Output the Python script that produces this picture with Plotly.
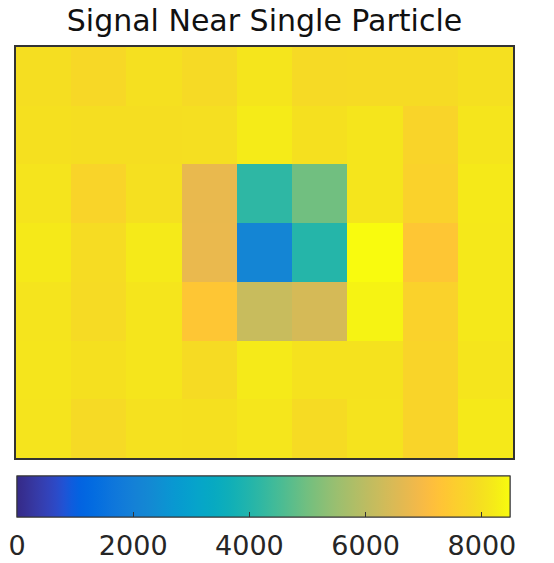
import plotly.graph_objects as go

title_text = "Signal Near Single Particle"
col_labels = list(range(9))
row_labels = list(range(7))

signal = [
    [7950, 7800, 7980, 7850, 8100, 7850, 7870, 7870, 7990],
    [8000, 7950, 7950, 7960, 8220, 8000, 8100, 7700, 8100],
    [8080, 7700, 7980, 6733, 4175, 4983, 8100, 7650, 8180],
    [8180, 7900, 8200, 6750, 2150, 4040, 8484, 7350, 8150],
    [8080, 7870, 8100, 7340, 6195, 6400, 8350, 7650, 8150],
    [8100, 8000, 8100, 7880, 8200, 8030, 8030, 7700, 8100],
    [8080, 7850, 8020, 8000, 8110, 7880, 8060, 7700, 8180],
]
cbar_ticks = [0, 2000, 4000, 6000, 8000]
cmin, cmax = 0, 8484

parula_rgb = [
    (0.2081, 0.1663, 0.5292), (0.2116, 0.1898, 0.5777), (0.2123, 0.2138, 0.6270), (0.2081, 0.2386, 0.6771),
    (0.1959, 0.2645, 0.7279), (0.1707, 0.2919, 0.7792), (0.1253, 0.3242, 0.8303), (0.0591, 0.3598, 0.8683),
    (0.0117, 0.3875, 0.8820), (0.0060, 0.4086, 0.8828), (0.0165, 0.4266, 0.8786), (0.0329, 0.4430, 0.8720),
    (0.0498, 0.4586, 0.8641), (0.0629, 0.4737, 0.8554), (0.0723, 0.4887, 0.8467), (0.0779, 0.5040, 0.8384),
    (0.0793, 0.5200, 0.8312), (0.0749, 0.5375, 0.8263), (0.0641, 0.5570, 0.8240), (0.0488, 0.5772, 0.8228),
    (0.0343, 0.5966, 0.8199), (0.0265, 0.6137, 0.8135), (0.0239, 0.6287, 0.8038), (0.0231, 0.6418, 0.7913),
    (0.0228, 0.6535, 0.7768), (0.0267, 0.6642, 0.7607), (0.0384, 0.6743, 0.7436), (0.0590, 0.6838, 0.7254),
    (0.0843, 0.6928, 0.7062), (0.1133, 0.7015, 0.6859), (0.1453, 0.7098, 0.6646), (0.1801, 0.7177, 0.6424),
    (0.2178, 0.7250, 0.6193), (0.2586, 0.7317, 0.5954), (0.3022, 0.7376, 0.5712), (0.3482, 0.7424, 0.5473),
    (0.3953, 0.7459, 0.5244), (0.4420, 0.7481, 0.5033), (0.4871, 0.7491, 0.4840), (0.5300, 0.7491, 0.4661),
    (0.5709, 0.7485, 0.4494), (0.6099, 0.7473, 0.4337), (0.6473, 0.7456, 0.4188), (0.6834, 0.7435, 0.4044),
    (0.7184, 0.7411, 0.3905), (0.7525, 0.7384, 0.3768), (0.7858, 0.7356, 0.3633), (0.8185, 0.7327, 0.3498),
    (0.8507, 0.7299, 0.3360), (0.8824, 0.7274, 0.3217), (0.9139, 0.7258, 0.3063), (0.9450, 0.7261, 0.2886),
    (0.9739, 0.7314, 0.2666), (0.9938, 0.7455, 0.2403), (0.9990, 0.7653, 0.2164), (0.9955, 0.7861, 0.1967),
    (0.9880, 0.8066, 0.1794), (0.9789, 0.8271, 0.1633), (0.9697, 0.8481, 0.1475), (0.9626, 0.8705, 0.1309),
    (0.9589, 0.8949, 0.1132), (0.9598, 0.9218, 0.0948), (0.9661, 0.9514, 0.0755), (0.9763, 0.9831, 0.0538),
]
n = len(parula_rgb)
parula = [[i / (n - 1), "rgb(%d,%d,%d)" % tuple(round(c * 255) for c in rgb)] for i, rgb in enumerate(parula_rgb)]

W, H = 554, 563
L, R, T, B = 16, 41, 47, 105
plot_h = H - T - B

cb_common = dict(
    orientation="h",
    x=(17 - L) / (W - L - R), xanchor="left",
    y=-(476 - (T + plot_h)) / plot_h, yanchor="top",
    len=493, lenmode="pixels",
    thickness=41, thicknessmode="pixels",
    xpad=0, ypad=0,
    outlinewidth=1, outlinecolor="#333333",
    tickvals=cbar_ticks,
)

fig = go.Figure()
# colorbar carrying the tick labels (invisible outside ticks set the label gap)
fig.add_trace(go.Heatmap(
    z=signal, x=col_labels, y=row_labels,
    colorscale=parula, zmin=cmin, zmax=cmax,
    hoverinfo="skip",
    colorbar=dict(**cb_common,
                  ticks="outside", ticklen=6, tickcolor="rgba(0,0,0,0)",
                  tickfont=dict(family="DejaVu Sans", size=27, color="#262626")),
))
# colorbar carrying the small inside tick marks
fig.add_trace(go.Heatmap(
    z=signal, x=col_labels, y=row_labels,
    colorscale=parula, zmin=cmin, zmax=cmax,
    hoverinfo="skip",
    colorbar=dict(**cb_common,
                  ticks="inside", ticklen=5, tickcolor="#333333", tickwidth=1,
                  showticklabels=False),
))

fig.update_xaxes(range=[-0.5, 8.5], showticklabels=False, ticks="", showgrid=False, zeroline=False,
                 showline=True, mirror=True, linecolor="#333333", linewidth=2)
fig.update_yaxes(range=[6.5, -0.5], showticklabels=False, ticks="", showgrid=False, zeroline=False,
                 showline=True, mirror=True, linecolor="#333333", linewidth=2)

fig.update_layout(
    width=W, height=H,
    margin=dict(l=L, r=R, t=T, b=B, autoexpand=False),
    paper_bgcolor="white", plot_bgcolor="white",
    title=dict(text=title_text, x=0.5, xref="paper", xanchor="center", y=1 - 20 / H, yanchor="middle",
               font=dict(family="DejaVu Sans", size=30, color="#111111")),
)

fig.write_html("out.html")
